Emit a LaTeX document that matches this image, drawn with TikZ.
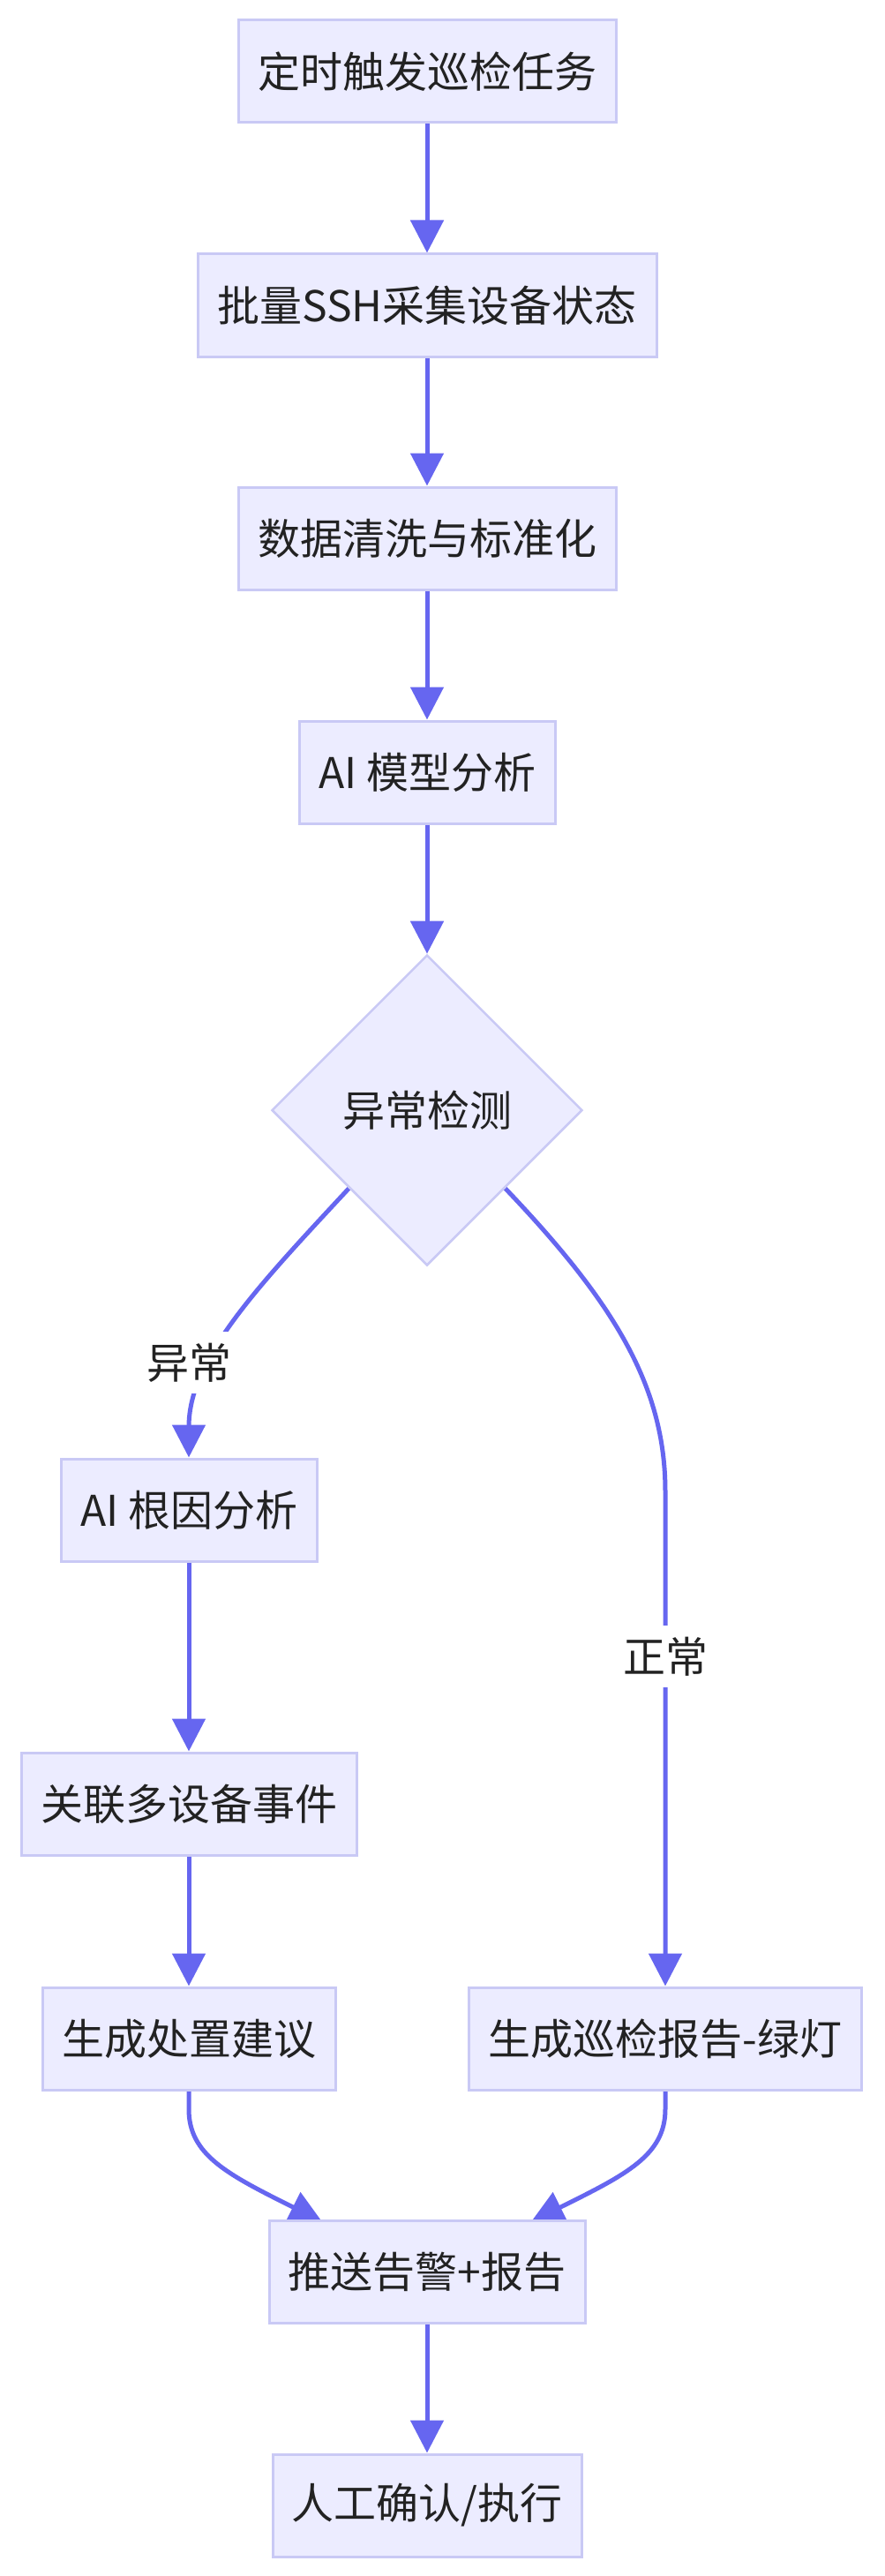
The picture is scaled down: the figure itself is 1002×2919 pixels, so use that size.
\documentclass[tikz,border=0pt]{standalone}
\usepackage{fontspec}
\setmainfont{Noto Sans CJK SC}
\usetikzlibrary{shapes.geometric,arrows.meta,calc}
\definecolor{nodefill}{HTML}{ECECFF}
\definecolor{nodeline}{HTML}{C9C9F5}
\definecolor{edgecol}{HTML}{6666F0}
\definecolor{txtcol}{HTML}{222222}
\pgfdeclarelayer{bg}
\pgfsetlayers{bg,main}
\begin{document}
\begin{tikzpicture}[x=1pt,y=-1pt,
  box/.style={draw=nodeline,fill=nodefill,line width=3pt,minimum height=116pt,inner sep=0pt,text=txtcol,font=\fontsize{48}{58}\selectfont},
  dec/.style={diamond,draw=nodeline,fill=nodefill,line width=2.5pt,minimum width=352pt,minimum height=352pt,inner sep=0pt,text=txtcol,font=\fontsize{48}{58}\selectfont},
  edge/.style={draw=edgecol,line width=5pt,-{Triangle[length=37pt,width=37pt]}},
  lbl/.style={fill=white,inner sep=0pt,minimum height=70pt,minimum width=96pt,text=txtcol,font=\fontsize{48}{58}\selectfont}]
\begin{pgfonlayer}{bg}
\fill[white] (0,0) rectangle (1002,2919);
\end{pgfonlayer}
\useasboundingbox (0,0) rectangle (1002,2919);

\node[box,minimum width=428pt] (n1) at (484,81) {定时触发巡检任务};
\node[box,minimum width=520pt] (n2) at (484,346) {批量SSH采集设备状态};
\node[box,minimum width=428pt] (n3) at (484,610) {数据清洗与标准化};
\node[box,minimum width=290pt] (n4) at (484,875) {AI 模型分析};
\node[dec] (d) at (484,1258) {异常检测};
\node[box,minimum width=290pt] (rca) at (214,1711) {AI 根因分析};
\node[box,minimum width=380pt] (corr) at (214,2044) {关联多设备事件};
\node[box,minimum width=332pt] (sugg) at (214,2310) {生成处置建议};
\node[box,minimum width=445pt] (rep) at (754,2310) {生成巡检报告-绿灯};
\node[box,minimum width=358pt] (push) at (484,2574) {推送告警+报告};
\node[box,minimum width=350pt] (man) at (484,2839) {人工确认/执行};

\begin{pgfonlayer}{bg}
\draw[edge] (n1) -- (n2);
\draw[edge] (n2) -- (n3);
\draw[edge] (n3) -- (n4);
\draw[edge] (n4) -- (d);
\draw[edge] (d.south west) .. controls (290,1460) and (214,1540) .. (214,1617) -- (rca.north);
\draw[edge] (d.south east) .. controls (695,1475) and (754,1570) .. (754,1690) -- (rep.north);
\draw[edge] (rca) -- (corr);
\draw[edge] (corr) -- (sugg);
\draw[edge] (sugg.south) -- (214,2390) .. controls (214,2442) and (258,2464) .. ($(push.north)+(-119,3)$);
\draw[edge] (rep.south) -- (754,2390) .. controls (754,2442) and (710,2464) .. ($(push.north)+(118,3)$);
\draw[edge] (push) -- (man);
\end{pgfonlayer}

\node[lbl] (l1) at (214,1544) {异常};
\node[lbl] (l2) at (754,1877) {正常};
\end{tikzpicture}
\end{document}
